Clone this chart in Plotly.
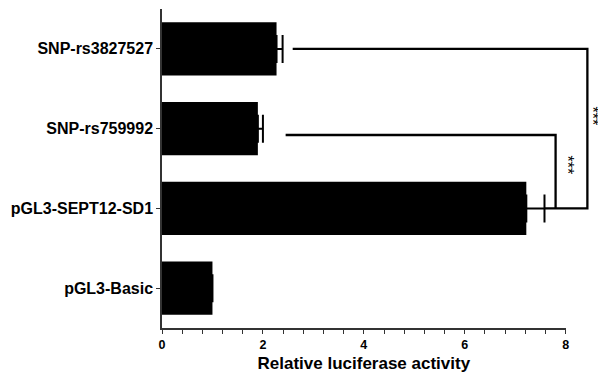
import plotly.graph_objects as go

# ---- data ----
categories = ["pGL3-Basic", "pGL3-SEPT12-SD1", "SNP-rs759992", "SNP-rs3827527"]
positions = [0, 1, 2, 3]
values = [1.00, 7.22, 1.90, 2.27]
errors = [0.0, 0.36, 0.10, 0.12]

x_ticks = [0, 2, 4, 6, 8]
x_minor = [0.4, 0.8, 1.2, 1.6, 2.4, 2.8, 3.2, 3.6, 4.4, 4.8, 5.2, 5.6, 6.4, 6.8, 7.2, 7.6]

# significance brackets (x in axis units, y in category positions)
bracket1_x = [2.59, 8.43, 8.43, 7.58]
bracket1_y = [3.0, 3.0, 1.0, 1.0]
bracket2_x = [2.45, 7.80, 7.80]
bracket2_y = [1.92, 1.92, 1.0]
stars_x = [8.53, 8.04]
stars_y = [2.16, 1.54]
stars_text = ["***", "***"]

FONT = "Liberation Sans, Arial, sans-serif"
AXC = "#333333"

fig = go.Figure()
fig.add_trace(go.Bar(
    x=values, y=positions, orientation="h",
    marker=dict(color="black", line=dict(width=0)),
    width=0.67,
    error_x=dict(type="data", symmetric=False, array=errors,
                 arrayminus=[0] * len(errors), color="black",
                 thickness=2, width=14),
    xaxis="x", yaxis="y", showlegend=False,
))
for bx, by in [(bracket1_x, bracket1_y), (bracket2_x, bracket2_y)]:
    fig.add_trace(go.Scatter(
        x=bx, y=by, mode="lines", line=dict(color="black", width=2.3),
        xaxis="x2", yaxis="y", showlegend=False, hoverinfo="skip",
    ))

for sx, sy, st in zip(stars_x, stars_y, stars_text):
    fig.add_annotation(x=sx, y=sy, xref="x2", yref="y", text=st,
                       showarrow=False, textangle=90,
                       xanchor="center", yanchor="middle",
                       font=dict(family=FONT, size=16, color="black"))

# page body has an 8px default margin, so the figure is 8px smaller
W, H = 598, 367
ml, mr, mt, mb = 154, 0, 1, 47
pw = W - ml - mr
px_per_unit = 50.46

fig.update_layout(
    width=W, height=H,
    margin=dict(l=ml, r=mr, t=mt, b=mb, pad=0, autoexpand=False),
    paper_bgcolor="white", plot_bgcolor="rgba(0,0,0,0)",
    font=dict(family=FONT, color="black"),
    xaxis=dict(
        domain=[0, 8 * px_per_unit / pw], range=[0, 8],
        anchor="y", automargin=False,
        tickvals=x_ticks, ticktext=[str(v) for v in x_ticks],
        ticks="outside", ticklen=4, tickwidth=1.2, tickcolor=AXC,
        minor=dict(tickvals=x_minor, ticks="outside", ticklen=4,
                   tickwidth=1.2, tickcolor=AXC, showgrid=False),
        showline=True, linecolor=AXC, linewidth=1.5,
        showgrid=False, zeroline=False,
        tickfont=dict(family=FONT, size=12.5, color="black", weight="bold"),
        title=dict(text="Relative luciferase activity", standoff=6,
                   font=dict(family=FONT, size=17, color="black", weight="bold")),
    ),
    xaxis2=dict(
        domain=[0, 1], range=[0, pw / px_per_unit], anchor="y",
        visible=False, showgrid=False, zeroline=False,
    ),
    yaxis=dict(
        range=[-0.5, 3.5], anchor="x", automargin=False,
        tickvals=positions, ticktext=categories,
        ticks="outside", ticklen=4, tickwidth=1.2, tickcolor=AXC,
        showline=True, linecolor=AXC, linewidth=1.5,
        showgrid=False, zeroline=False,
        tickfont=dict(family=FONT, size=16, color="black", weight="bold"),
    ),
)

fig.write_html("out.html")
